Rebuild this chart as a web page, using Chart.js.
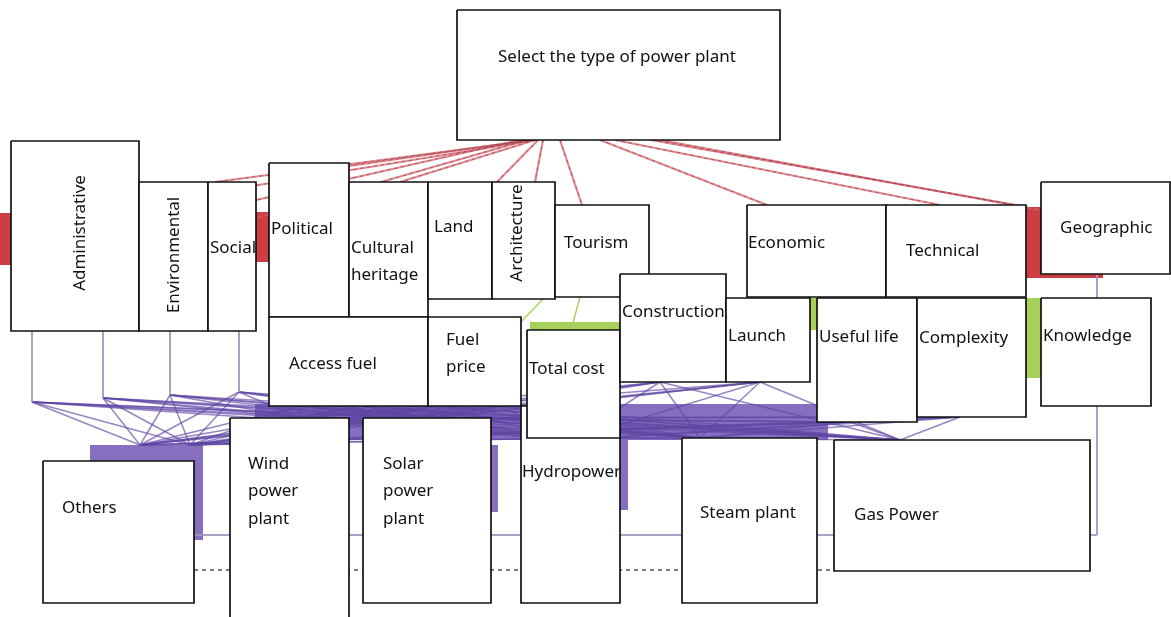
<!DOCTYPE html>
<html>
<head>
<meta charset="utf-8">
<script src="https://cdn.jsdelivr.net/npm/chart.js@4.4.0/dist/chart.umd.min.js"></script>
<style>
  html, body { margin: 0; padding: 0; background: #fff; }
  #wrap { position: relative; width: 1171px; height: 617px; }
</style>
</head>
<body>
<div id="wrap"><canvas id="diagram"></canvas></div>
<script>
// ---- diagram data (diagram units = 1171 x 617 grid) ----
var nodeLabels = [
  'Others', 'Wind\npower\nplant', 'Solar\npower\nplant', 'Hydropower', 'Steam plant', 'Gas Power',
  'Select the type of power plant',
  'Administrative', 'Environmental', 'Social', 'Political', 'Cultural\nheritage', 'Land',
  'Architecture', 'Tourism', 'Economic', 'Technical', 'Geographic',
  'Access fuel', 'Fuel\nprice', 'Total cost', 'Construction', 'Launch', 'Useful life',
  'Complexity', 'Knowledge'
];
var nodeLeft   = [43, 230, 363, 521, 682, 834, 457, 11, 139, 208, 269, 349, 428, 492, 555, 747, 886, 1041, 269, 428, 527, 620, 726, 817, 917, 1041];
var nodeTop    = [461, 418, 418, 406, 438, 440, 10, 141, 182, 182, 163, 182, 182, 182, 205, 205, 205, 182, 317, 317, 330, 274, 298, 298, 298, 298];
var nodeRight  = [194, 349, 491, 620, 817, 1090, 780, 139, 208, 256, 349, 428, 492, 555, 649, 886, 1026, 1170, 428, 521, 620, 726, 810, 917, 1026, 1151];
var nodeBottom = [603, 640, 603, 603, 603, 571, 140, 331, 331, 331, 317, 317, 299, 299, 297, 297, 297, 274, 406, 406, 438, 382, 382, 422, 417, 406];
// label anchor (first line) and whether it runs vertically
var labelX = [62, 248, 383, 522, 700, 854, 498, 80, 174, 210, 271, 351, 434, 517, 564, 748, 906, 1060, 289, 446, 529, 622, 728, 819, 919, 1043];
var labelY = [508, 464, 464, 472, 513, 515, 57, 233, 255, 248, 229, 248, 227, 233, 243, 243, 251, 228, 364, 340, 369, 312, 336, 337, 338, 336];
var labelVertical = ['Administrative', 'Environmental', 'Architecture'];

// background bands of the underlying hierarchy picture [x0, y0, x1, y1]
var redBands = [[0, 213, 11, 265], [256, 212, 269, 262], [1026, 207, 1103, 278]];
var greenBands = [[530, 322, 620, 336], [1026, 298, 1041, 378], [810, 298, 817, 330]];
var purpleBands = [[90, 445, 203, 540], [255, 404, 828, 440], [491, 445, 498, 512], [620, 440, 628, 510]];

// links [x0, y0, x1, y1]
var redLinks = [
  [533, 140, 215, 182], [536, 140, 240, 188], [520, 140, 256, 200], [527, 140, 256, 218],
  [530, 140, 349, 166], [535, 140, 400, 182], [538, 140, 497, 182], [543, 140, 535, 182],
  [560, 140, 582, 205], [600, 140, 767, 205], [615, 140, 940, 205], [651, 140, 1027, 207],
  [660, 140, 1040, 210]
];
var grayLinks = [
  [32, 331, 32, 402], [103, 331, 103, 398], [170, 331, 170, 395], [239, 331, 239, 392],
  [1097, 274, 1097, 298], [1097, 406, 1097, 535], [194, 535, 1097, 535]
];
var greenLinks = [[580, 297, 573, 323], [543, 299, 520, 323]];
var dashLinks = [[194, 570, 834, 570]];
// criteria bottoms -> alternative tops (every criterion feeds every alternative)
var critX = [32, 103, 170, 239, 300, 360, 440, 500, 575, 660, 760, 850, 960];
var critY = [402, 398, 395, 392, 406, 406, 406, 406, 438, 382, 382, 422, 417];
var altX = [140, 190, 300, 430, 570, 700, 900];
var altY = [445, 445, 418, 418, 440, 438, 440];

// ---- build datasets ----
var datasets = [];

function rectPoints(r) {
  return [{x: r[0], y: r[1]}, {x: r[2], y: r[1]}, {x: r[2], y: r[3]}, {x: r[0], y: r[3]}, {x: r[0], y: r[1]}];
}

function addBands(list, color) {
  list.forEach(function (r) {
    datasets.push({
      data: rectPoints(r), showLine: true, fill: 'shape',
      backgroundColor: color, borderColor: color, borderWidth: 0, pointRadius: 0
    });
  });
}

function addLinks(list, color, width, dash) {
  list.forEach(function (l) {
    datasets.push({
      data: [{x: l[0], y: l[1]}, {x: l[2], y: l[3]}], showLine: true, fill: false,
      borderColor: color, borderWidth: width, borderDash: dash || [], pointRadius: 0
    });
  });
}

addBands(redBands, 'rgba(200, 40, 45, 0.9)');
addBands(greenBands, 'rgba(150, 200, 60, 0.85)');
addBands(purpleBands, 'rgba(108, 78, 176, 0.82)');

var purpleLinks = [];
critX.forEach(function (cx, i) {
  altX.forEach(function (ax, j) {
    purpleLinks.push([cx, critY[i], ax, altY[j]]);
  });
});
addLinks(purpleLinks, 'rgba(95, 70, 165, 0.65)', 1.5);
addLinks(redLinks, 'rgba(222, 95, 105, 0.75)', 2.2);
addLinks(redLinks, 'rgba(95, 60, 70, 0.55)', 1, [3, 4]);
addLinks(grayLinks, 'rgba(160, 152, 190, 0.9)', 2);
addLinks(greenLinks, 'rgba(160, 205, 90, 0.9)', 1.5);
addLinks(dashLinks, 'rgba(40, 40, 40, 0.8)', 1.5, [4, 4]);

nodeLabels.forEach(function (name, i) {
  datasets.push({
    nodeIndex: i,
    data: rectPoints([nodeLeft[i], nodeTop[i], nodeRight[i], nodeBottom[i]]),
    showLine: true, fill: 'shape',
    backgroundColor: '#ffffff', borderColor: '#111111', borderWidth: 1.7, pointRadius: 0
  });
});

// later entries sit on top
datasets.forEach(function (d, i) { d.order = datasets.length - i; });

// node captions, drawn right after their own box
var captionPlugin = {
  id: 'captions',
  afterDatasetDraw: function (chart, args) {
    var ds = chart.data.datasets[args.index];
    if (ds.nodeIndex === undefined) return;
    var i = ds.nodeIndex;
    var ctx = chart.ctx;
    var x = chart.scales.x.getPixelForValue(labelX[i]);
    var y = chart.scales.y.getPixelForValue(labelY[i]);
    ctx.save();
    ctx.fillStyle = '#111';
    ctx.font = '17px "Noto Sans"';
    ctx.textBaseline = 'middle';
    if (labelVertical.indexOf(nodeLabels[i]) >= 0) {
      ctx.translate(x, y);
      ctx.rotate(-Math.PI / 2);
      ctx.textAlign = 'center';
      ctx.fillText(nodeLabels[i], 0, 0);
    } else {
      ctx.textAlign = 'left';
      nodeLabels[i].split('\n').forEach(function (line, k) {
        ctx.fillText(line, x, y + k * 27.5);
      });
    }
    ctx.restore();
  }
};

new Chart(document.getElementById('diagram'), {
  type: 'scatter',
  data: { datasets: datasets },
  options: {
    responsive: true,
    maintainAspectRatio: false,
    animation: false,
    layout: { padding: 0 },
    plugins: { legend: { display: false }, tooltip: { enabled: false } },
    scales: {
      x: { type: 'linear', min: 0, max: 1171, display: false },
      y: { type: 'linear', min: 0, max: 617, reverse: true, display: false }
    }
  },
  plugins: [captionPlugin]
});
</script>
</body>
</html>
